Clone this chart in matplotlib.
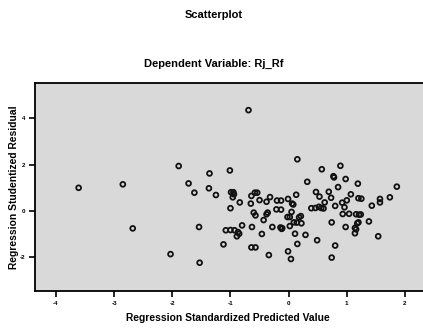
import matplotlib
matplotlib.use("Agg")
import matplotlib.pyplot as plt

# Data (standardized predicted value, studentized residual)
pred = [-3.61, -2.85, -2.68, -2.03, -1.89, -1.72, -1.62, -1.54, -1.53, -1.36,
        -1.37, -1.25, -0.69, 0.15, -1.01, 0.57, 0.89, 0.77, 0.78, 0.98,
        0.32, 1.19, 1.86, 0.85, -0.99, -0.95, -0.94, -0.96, -0.58, -0.54,
        -0.64, 0.47, 0.69, 1.07, -0.32, 0.13, 0.53, 0.73, 1.20, 1.25,
        1.57, 1.74, -0.84, -0.65, -0.50, -0.38, -0.20, -0.13, -0.01, 0.06,
        0.08, 0.62, 1.57, 0.92, 1.00, 0.80, 0.96, 1.43, -1.00, 0.39,
        0.46, 0.52, 0.56, 0.60, -0.21, -0.13, -0.60, -0.57, -0.36, -0.38,
        0.05, -0.02, 0.02, 0.21, 0.18, 0.93, 1.04, 1.16, 1.21, 1.24,
        -0.43, 0.09, 0.14, 0.22, 0.74, 1.38, 1.18, 1.20, -0.80, -0.63,
        -0.28, -0.14, -0.11, -0.12, 0.02, 0.98, 1.14, 1.16, -1.08, -1.00,
        -0.93, -0.87, -0.85, -0.89, -0.46, 0.11, 0.29, 1.14, 1.54, 0.49,
        -1.12, 0.15, 0.80, -0.64, -0.57, -0.01, -0.34, 0.04, 0.74]
resid = [1.00, 1.15, -0.75, -1.86, 1.94, 1.19, 0.79, -0.69, -2.23, 1.62,
         0.98, 0.69, 4.35, 2.23, 1.75, 1.80, 1.95, 1.50, 1.45, 1.38,
         1.26, 1.18, 1.05, 1.03, 0.81, 0.81, 0.72, 0.59, 0.79, 0.79,
         0.65, 0.82, 0.83, 0.72, 0.60, 0.70, 0.62, 0.57, 0.55, 0.53,
         0.52, 0.59, 0.37, 0.32, 0.47, 0.40, 0.45, 0.45, 0.52, 0.32,
         0.28, 0.37, 0.37, 0.36, 0.46, 0.22, 0.16, 0.23, 0.12, 0.12,
         0.13, 0.18, 0.13, 0.11, 0.07, 0.06, -0.07, -0.19, -0.07, -0.14,
         -0.04, -0.26, -0.26, -0.22, -0.27, -0.13, -0.12, -0.14, -0.16, -0.15,
         -0.39, -0.49, -0.50, -0.53, -0.49, -0.45, -0.53, -0.49, -0.62, -0.69,
         -0.69, -0.71, -0.74, -0.77, -0.65, -0.69, -0.73, -0.79, -0.83, -0.82,
         -0.83, -0.91, -0.98, -1.09, -0.99, -0.98, -1.03, -0.96, -1.09, -1.26,
         -1.44, -1.42, -1.49, -1.57, -1.57, -1.74, -1.90, -2.07, -2.01]

xticks = [-4, -3, -2, -1, 0, 1, 2]
yticks = [-2, 0, 2, 4]

plt.rcParams['font.family'] = ['Liberation Sans', 'DejaVu Sans']

fig = plt.figure(figsize=(4.23, 3.29), dpi=100)
ax = fig.add_axes([35/423, 1 - 291/329, 1 - 35/423, (291 - 83)/329])
ax.set_facecolor('#d9d9d9')
ax.scatter(pred, resid, s=12, facecolors='none', edgecolors='#111111', linewidths=1.3, zorder=3)

ax.set_xlim(-4.36, 2.31)
ax.set_ylim(-3.45, 5.52)
ax.set_xticks(xticks)
ax.set_yticks(yticks)
ax.set_xticklabels([str(t) for t in xticks], fontsize=4.5, fontweight='bold')
ax.set_yticklabels([str(t) for t in yticks], fontsize=4.5, fontweight='bold')
ax.tick_params(axis='both', direction='out', length=4, width=1.2, pad=3, colors='black')
for side in ['left', 'bottom', 'top']:
    ax.spines[side].set_linewidth(1.3)
    ax.spines[side].set_color('black')
ax.spines['right'].set_visible(False)

ax.set_xlabel('Regression Standardized Predicted Value', fontsize=7.4, fontweight='bold', va='center')
ax.xaxis.set_label_coords(0.496, -0.13)
ax.set_ylabel('Regression Studentized Residual', fontsize=7.4, fontweight='bold', va='center')
ax.yaxis.set_label_coords(-0.054, 0.5)

fig.text(214/423, 1 - 15/329, 'Scatterplot', ha='center', va='center', fontsize=8, fontweight='bold')
fig.text(214/423, 1 - 64/329, 'Dependent Variable: Rj_Rf', ha='center', va='center', fontsize=8, fontweight='bold')

fig.savefig('out.png', dpi=100)
